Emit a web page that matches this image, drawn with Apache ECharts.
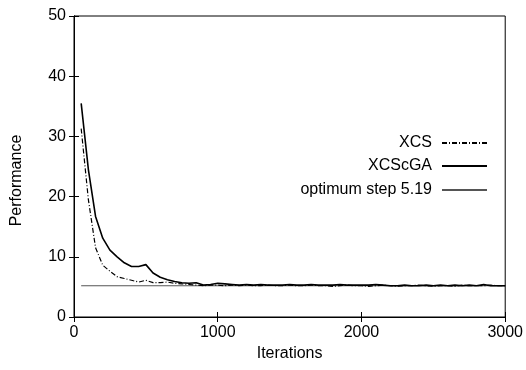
<!DOCTYPE html>
<html>
<head>
<meta charset="utf-8">
<script src="https://cdn.jsdelivr.net/npm/echarts@6/dist/echarts.min.js"></script>
<style>
  html, body { margin: 0; padding: 0; background: #fff; }
  #chart { width: 526px; height: 370px; }
</style>
</head>
<body>
<div id="chart"></div>
<script>
// iterations (x)
var iterations = [50, 100, 150, 200, 250, 300, 350, 400, 450, 500,
    550, 600, 650, 700, 750, 800, 850, 900, 950, 1000,
    1050, 1100, 1150, 1200, 1250, 1300, 1350, 1400, 1450, 1500,
    1550, 1600, 1650, 1700, 1750, 1800, 1850, 1900, 1950, 2000,
    2050, 2100, 2150, 2200, 2250, 2300, 2350, 2400, 2450, 2500,
    2550, 2600, 2650, 2700, 2750, 2800, 2850, 2900, 2950, 3000];

var xcs = [31.3, 19.5, 11.5, 8.6, 7.6, 6.7, 6.4, 6.1, 5.8, 6.1,
    5.7, 5.7, 5.8, 5.6, 5.5, 5.4, 5.3, 5.2, 5.3, 5.3,
    5.2, 5.3, 5.2, 5.3, 5.2, 5.2, 5.3, 5.2, 5.2, 5.3,
    5.2, 5.2, 5.3, 5.2, 5.2, 5.1, 5.2, 5.3, 5.2, 5.2,
    5.1, 5.2, 5.3, 5.2, 5.1, 5.2, 5.2, 5.3, 5.2, 5.1,
    5.2, 5.2, 5.1, 5.3, 5.2, 5.2, 5.2, 5.3, 5.2, 5.2];

var xcscga = [35.5, 24.5, 16.7, 13.1, 11.1, 10.0, 9.0, 8.4, 8.4, 8.7,
    7.3, 6.6, 6.2, 5.9, 5.7, 5.6, 5.7, 5.3, 5.4, 5.6,
    5.5, 5.4, 5.3, 5.4, 5.3, 5.4, 5.3, 5.3, 5.3, 5.4,
    5.3, 5.3, 5.4, 5.3, 5.3, 5.3, 5.4, 5.3, 5.3, 5.3,
    5.3, 5.4, 5.3, 5.2, 5.2, 5.3, 5.2, 5.2, 5.3, 5.2,
    5.3, 5.2, 5.3, 5.2, 5.3, 5.2, 5.4, 5.2, 5.2, 5.2];

var optimumX = [50, 3000];
var optimumY = [5.19, 5.19];

var xTicks = [0, 1000, 2000, 3000];
var yTicks = [0, 10, 20, 30, 40, 50];

function pairs(xs, ys) {
    var out = [];
    for (var i = 0; i < xs.length; i++) out.push([xs[i], ys[i]]);
    return out;
}

var font = 'Liberation Sans, Arial, sans-serif';
var fs = 16;
var myChart = echarts.init(document.getElementById('chart'));

function legendItem(name, top) {
    return {
        data: [name],
        orient: 'vertical',
        align: 'right',
        right: 38,
        top: top,
        itemWidth: 45,
        itemHeight: 16,
        padding: 0,
        selectedMode: false,
        itemStyle: { opacity: 0 },   // hide the dot, keep the line sample
        textStyle: { fontFamily: font, fontSize: fs, color: '#000', padding: [0, 5, 0, 0] }
    };
}

var tickStyle = { show: true, inside: true, length: 5, lineStyle: { color: '#000', width: 1 } };

myChart.setOption({
    animation: false,
    grid: {
        left: 74, right: 18, top: 16, bottom: 53,
        show: true, borderColor: '#000', borderWidth: 1
    },
    legend: [
        legendItem('XCS', 135),
        legendItem('XCScGA', 158),
        legendItem('optimum step 5.19', 182)
    ],
    xAxis: [{
        type: 'value',
        min: xTicks[0], max: xTicks[xTicks.length - 1], interval: 1000,
        name: 'Iterations',
        nameLocation: 'middle',
        nameGap: 29,
        nameTextStyle: { fontFamily: font, fontSize: fs, color: '#000' },
        axisLine: { show: true, lineStyle: { color: '#000' } },
        axisTick: tickStyle,
        axisLabel: { fontFamily: font, fontSize: fs, color: '#000', margin: 8,
            formatter: function (v) { return String(v); } },
        splitLine: { show: false }
    }, {
        type: 'value', position: 'top',
        min: xTicks[0], max: xTicks[xTicks.length - 1], interval: 1000,
        axisLine: { show: true, lineStyle: { color: '#000' } },
        axisTick: tickStyle,
        axisLabel: { show: false },
        splitLine: { show: false }
    }],
    yAxis: [{
        type: 'value',
        min: yTicks[0], max: yTicks[yTicks.length - 1], interval: 10,
        name: 'Performance',
        nameLocation: 'middle',
        nameGap: 49,
        nameTextStyle: { fontFamily: font, fontSize: fs, color: '#000', padding: [0, 28, 0, 0] },
        axisLine: { show: true, lineStyle: { color: '#000' } },
        axisTick: tickStyle,
        axisLabel: { fontFamily: font, fontSize: fs, color: '#000', margin: 8 },
        splitLine: { show: false }
    }, {
        type: 'value', position: 'right',
        min: yTicks[0], max: yTicks[yTicks.length - 1], interval: 10,
        axisLine: { show: true, lineStyle: { color: '#000' } },
        axisTick: tickStyle,
        axisLabel: { show: false },
        splitLine: { show: false }
    }],
    series: [{
        name: 'optimum step 5.19',
        type: 'line',
        data: pairs(optimumX, optimumY),
        symbol: 'none',
        lineStyle: { color: '#555', width: 1 },
        itemStyle: { color: '#555' },
        z: 1
    }, {
        name: 'XCS',
        type: 'line',
        data: pairs(iterations, xcs),
        symbol: 'none',
        lineStyle: { color: '#000', width: 1.2, type: [5, 2, 1, 2] },
        itemStyle: { color: '#000' },
        z: 2
    }, {
        name: 'XCScGA',
        type: 'line',
        data: pairs(iterations, xcscga),
        symbol: 'none',
        lineStyle: { color: '#000', width: 1.6 },
        itemStyle: { color: '#000' },
        z: 3
    }]
});
</script>
</body>
</html>
